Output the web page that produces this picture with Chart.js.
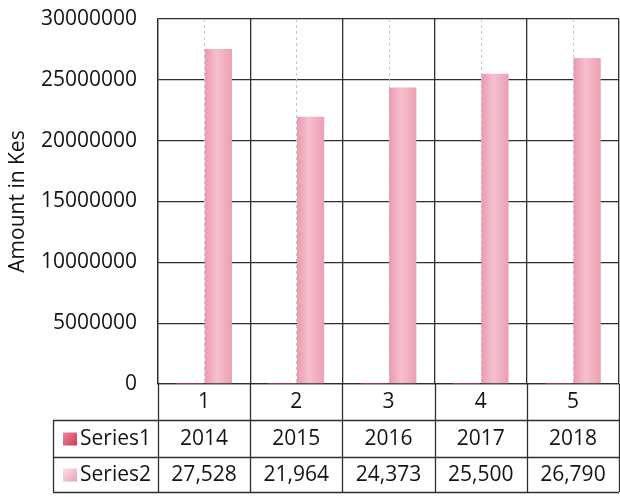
<!DOCTYPE html>
<html>
<head>
<meta charset="utf-8">
<script src="https://cdn.jsdelivr.net/npm/chart.js@4"></script>
<style>
  html, body { margin: 0; padding: 0; background: #fff; }
</style>
</head>
<body>
<canvas id="graficaMontos" width="620" height="497"></canvas>
<script>
// datos
const categorias = ["1", "2", "3", "4", "5"];
const series1Valores = [2014, 2015, 2016, 2017, 2018];
const series2Valores = [27528000, 21964000, 24373000, 25500000, 26790000];
const series1Tabla = ["2014", "2015", "2016", "2017", "2018"];
const series2Tabla = ["27,528", "21,964", "24,373", "25,500", "26,790"];
const yTicks = [0, 5000000, 10000000, 15000000, 20000000, 25000000, 30000000];

const fuente = "'Open Sans', 'Liberation Sans', sans-serif";
const colorTexto = "#141414";
const colorLinea = "#2e2e2e";

// tabla de datos debajo del eje x (como en Excel)
const tablaPlugin = {
  id: "tablaDatos",
  beforeDatasetsDraw(chart) {
    const { ctx, chartArea, scales: { x } } = chart;
    ctx.save();
    ctx.strokeStyle = "#c8c8c8";
    ctx.lineWidth = 1;
    ctx.setLineDash([3, 3]);
    categorias.forEach((c, i) => {
      const px = Math.round(x.getPixelForValue(i)) + 0.5;
      ctx.beginPath();
      ctx.moveTo(px, chartArea.top);
      ctx.lineTo(px, chartArea.bottom);
      ctx.stroke();
    });
    ctx.restore();
  },
  afterDraw(chart) {
    const { ctx, chartArea, scales: { x } } = chart;
    const n = categorias.length;
    const paso = (x.right - x.left) / n;
    const izq = 53; // borde izquierdo de la tabla
    const y0 = chartArea.bottom;
    const y1 = y0 + 36;
    const y2 = y1 + 37;
    const y3 = y2 + 35;

    ctx.save();
    ctx.strokeStyle = colorLinea;
    ctx.lineWidth = 1.3;

    // lineas verticales de columnas
    for (let i = 0; i <= n; i++) {
      const px = Math.round(x.left + i * paso) + 0.5;
      ctx.beginPath();
      ctx.moveTo(px, y0);
      ctx.lineTo(px, y3);
      ctx.stroke();
    }
    // lineas horizontales
    [y1, y2, y3].forEach((yy) => {
      ctx.beginPath();
      ctx.moveTo(izq, Math.round(yy) + 0.5);
      ctx.lineTo(x.right, Math.round(yy) + 0.5);
      ctx.stroke();
    });
    ctx.beginPath();
    ctx.moveTo(izq + 0.5, y1);
    ctx.lineTo(izq + 0.5, y3);
    ctx.stroke();

    // claves de leyenda
    const filas = [
      { nombre: "Series1", valores: series1Tabla, c1: "#c93a55", c2: "#f08a9c", ym: (y1 + y2) / 2 },
      { nombre: "Series2", valores: series2Tabla, c1: "#e7a3b8", c2: "#fbe1ea", ym: (y2 + y3) / 2 },
    ];
    ctx.font = "21px " + fuente;
    ctx.fillStyle = colorTexto;
    ctx.textBaseline = "middle";
    filas.forEach((f) => {
      const g = ctx.createLinearGradient(63, f.ym - 7, 77, f.ym + 7);
      g.addColorStop(0, f.c2);
      g.addColorStop(1, f.c1);
      ctx.fillStyle = g;
      ctx.fillRect(63, f.ym - 6, 14, 13);
      ctx.fillStyle = colorTexto;
      ctx.textAlign = "left";
      ctx.fillText(f.nombre, 80, f.ym + 1);
      ctx.textAlign = "center";
      f.valores.forEach((v, i) => {
        ctx.fillText(v, x.left + (i + 0.5) * paso, f.ym + 1);
      });
    });
    ctx.restore();
  },
};

function colorCilindro(context) {
  const chart = context.chart;
  const x = chart.scales.x;
  if (!x || x.width === undefined || isNaN(x.getPixelForValue(context.dataIndex))) {
    return "#f2b3c3";
  }
  const centro = x.getPixelForValue(context.dataIndex);
  const g = chart.ctx.createLinearGradient(centro, 0, centro + 28, 0);
  g.addColorStop(0, "#e898ad");
  g.addColorStop(0.45, "#f6c0ce");
  g.addColorStop(1, "#ea9fb2");
  return g;
}

const ctx = document.getElementById("graficaMontos").getContext("2d");
window.myChart = new Chart(ctx, {
  type: "bar",
  data: {
    labels: categorias,
    datasets: [
      {
        label: "Series1",
        data: series1Valores,
        backgroundColor: "#d0485f",
        borderWidth: 0,
      },
      {
        label: "Series2",
        data: series2Valores,
        backgroundColor: colorCilindro,
        borderWidth: 0,
      },
    ],
  },
  options: {
    responsive: false,
    animation: false,
    devicePixelRatio: 1,
    layout: { padding: { top: 19, right: 1, bottom: 0, left: 0 } },
    datasets: {
      bar: { categoryPercentage: 0.62, barPercentage: 0.95 },
    },
    plugins: {
      legend: { display: false },
      tooltip: { enabled: false },
    },
    scales: {
      x: {
        grid: { offset: true, color: colorLinea, lineWidth: 1.3, drawTicks: false },
        border: { color: colorLinea, width: 1.3 },
        ticks: { color: colorTexto, font: { family: fuente, size: 21 }, padding: 5 },
        afterFit(scale) { scale.height = 113; },
      },
      y: {
        min: 0,
        max: 30000000,
        afterBuildTicks(scale) { scale.ticks = yTicks.map((v) => ({ value: v })); },
        grid: { color: colorLinea, lineWidth: 1.3, drawTicks: true, tickLength: 21, tickColor: "rgba(0,0,0,0)" },
        border: { color: colorLinea, width: 1.3 },
        ticks: {
          color: colorTexto,
          font: { family: fuente, size: 21 },
          padding: 0,
          callback: (v) => String(v),
        },
        title: {
          display: true,
          text: "Amount in Kes",
          color: colorTexto,
          font: { family: fuente, size: 21 },
          padding: { top: 5, bottom: 0 },
        },
        afterFit(scale) { scale.width = 158; },
      },
    },
  },
  plugins: [tablaPlugin],
});
</script>
</body>
</html>
